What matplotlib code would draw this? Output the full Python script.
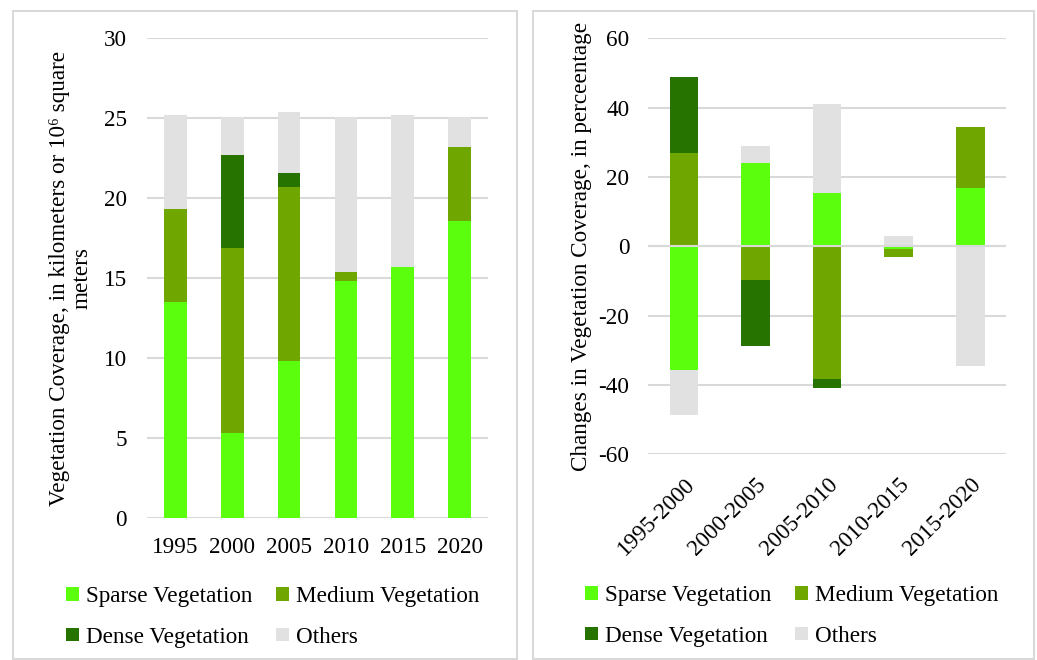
import matplotlib
matplotlib.use("Agg")
import matplotlib.pyplot as plt
import numpy as np
from matplotlib.patches import Rectangle

plt.rcParams['font.family'] = ['Liberation Serif', 'DejaVu Serif']
plt.rcParams['axes.unicode_minus'] = False

series = ["Sparse Vegetation", "Medium Vegetation", "Dense Vegetation", "Others"]
colors = ["#5BFF0E", "#70A600", "#267300", "#E1E1E1"]

years = ["1995", "2000", "2005", "2010", "2015", "2020"]
sparse = [13.5, 5.3, 9.8, 14.8, 15.7, 18.6]
medium = [5.85, 11.6, 10.9, 0.6, 0.0, 4.6]
dense = [0.0, 5.8, 0.9, 0.0, 0.0, 0.0]
others = [5.85, 2.4, 3.8, 9.7, 9.5, 1.9]

periods = ["1995-2000", "2000-2005", "2005-2010", "2010-2015", "2015-2020"]
d_sparse = [-35.7, 24.1, 15.5, -0.9, 16.8]
d_medium = [27.0, -9.7, -38.4, -2.1, 17.7]
d_dense = [21.7, -19.1, -2.6, 0.0, 0.0]
d_others = [-13.0, 4.9, 25.5, 3.0, -34.4]

fig = plt.figure(figsize=(10.37, 6.6), dpi=100)

# panel borders
for x0, x1 in [(12.5, 516.5), (532.5, 1034)]:
    fig.patches.append(Rectangle((x0 / 1037, 1 - 659 / 660), (x1 - x0) / 1037, (659 - 11) / 660,
                                 transform=fig.transFigure, fill=False, edgecolor="#D9D9D9",
                                 linewidth=1.5, zorder=0))

FS = 16.7
grid_c = "#D9D9D9"


def stacked(ax, cats, data):
    x = np.arange(len(cats))
    pos = np.zeros(len(cats))
    neg = np.zeros(len(cats))
    handles = []
    for vals, c, name in zip(data, colors, series):
        v = np.array(vals, dtype=float)
        bottom = np.where(v >= 0, pos, neg)
        h = ax.bar(x, v, 0.4, bottom=bottom, color=c, label=name, zorder=2, linewidth=0)
        pos = pos + np.where(v >= 0, v, 0)
        neg = neg + np.where(v < 0, v, 0)
        handles.append(h)
    ax.set_xlim(-0.5, len(cats) - 0.5)
    for s in ax.spines.values():
        s.set_visible(False)
    ax.tick_params(length=0, labelsize=FS)
    ax.yaxis.grid(True, color=grid_c, linewidth=1.5, zorder=0)
    ax.set_axisbelow(True)
    return x, handles


def add_legend(ax, handles, x, y):
    order = [0, 2, 1, 3]  # row-wise: Sparse, Medium / Dense, Others
    ax.legend([handles[i] for i in order], [series[i] for i in order],
              loc="upper left", bbox_to_anchor=(x / 1037, 1 - y / 660), bbox_transform=fig.transFigure,
              ncol=2, frameon=False, fontsize=FS, handlelength=0.55, handleheight=0.55,
              handletextpad=0.3, columnspacing=1.05, labelspacing=0.85, borderaxespad=0, borderpad=0)


ax1 = fig.add_axes([147 / 1037, 1 - 518 / 660, 341 / 1037, 479.5 / 660])
x1, h1 = stacked(ax1, years, [sparse, medium, dense, others])
ax1.set_ylim(0, 30)
ax1.set_yticks(range(0, 31, 5))
ax1.set_xticks(x1)
ax1.set_xticklabels(years)
ax1.tick_params(axis='y', pad=14.4)
ax1.tick_params(axis='x', pad=14)
ax1.set_ylabel("Vegetation Coverage, in kilometers or 10\u2076 square\nmeters", fontsize=FS,
               linespacing=1.1)
ax1.yaxis.set_label_coords(-0.16, 0.5)
add_legend(ax1, h1, 66, 586)

ax2 = fig.add_axes([648.3 / 1037, 1 - 454.3 / 660, 357.7 / 1037, 416 / 660])
x2, h2 = stacked(ax2, periods, [d_sparse, d_medium, d_dense, d_others])
ax2.set_ylim(-60, 60)
ax2.set_yticks(range(-60, 61, 20))
ax2.axhline(0, color=grid_c, linewidth=1.5, zorder=3)
ax2.set_xticks(x2)
ax2.set_xticklabels(periods, rotation=45, ha="right", rotation_mode="anchor")
ax2.tick_params(axis='y', pad=13.7)
ax2.tick_params(axis='x', pad=14)
ax2.set_ylabel("Changes in Vegetation Coverage, in perceentage", fontsize=FS)
ax2.yaxis.set_label_coords(-0.158, 0.5)
add_legend(ax2, h2, 585, 585)

fig.savefig("out.png", dpi=100)
